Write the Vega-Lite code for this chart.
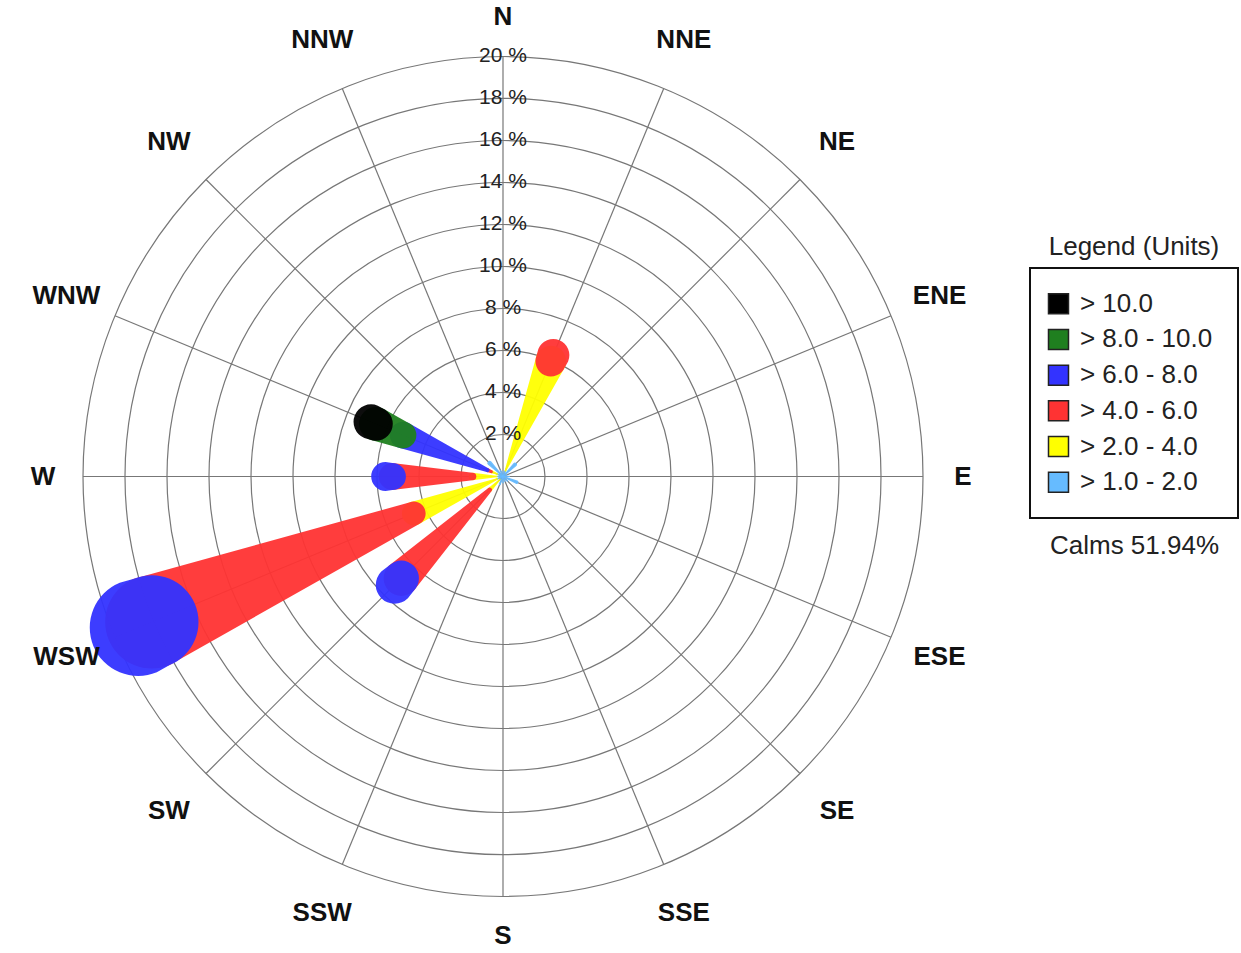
{
  "$schema": "https://vega.github.io/schema/vega-lite/v6.json",
  "padding": 0,
  "background": "white",
  "spacing": 24,
  "bounds": "flush",
  "config": {"view": {"stroke": null}, "font": "Liberation Sans"},
  "datasets": {
    "dirs": [
      {"dir": "N", "deg": 0, "kind": "cardinal"},
      {"dir": "NNE", "deg": 22.5, "kind": "other"},
      {"dir": "NE", "deg": 45, "kind": "other"},
      {"dir": "ENE", "deg": 67.5, "kind": "other"},
      {"dir": "E", "deg": 90, "kind": "cardinal"},
      {"dir": "ESE", "deg": 112.5, "kind": "other"},
      {"dir": "SE", "deg": 135, "kind": "other"},
      {"dir": "SSE", "deg": 157.5, "kind": "other"},
      {"dir": "S", "deg": 180, "kind": "cardinal"},
      {"dir": "SSW", "deg": 202.5, "kind": "other"},
      {"dir": "SW", "deg": 225, "kind": "other"},
      {"dir": "WSW", "deg": 247.5, "kind": "other"},
      {"dir": "W", "deg": 270, "kind": "cardinal"},
      {"dir": "WNW", "deg": 292.5, "kind": "other"},
      {"dir": "NW", "deg": 315, "kind": "other"},
      {"dir": "NNW", "deg": 337.5, "kind": "other"}
    ],
    "rings": [
      {"r": 2, "label": "2 %"}, {"r": 4, "label": "4 %"}, {"r": 6, "label": "6 %"},
      {"r": 8, "label": "8 %"}, {"r": 10, "label": "10 %"}, {"r": 12, "label": "12 %"},
      {"r": 14, "label": "14 %"}, {"r": 16, "label": "16 %"}, {"r": 18, "label": "18 %"},
      {"r": 20, "label": "20 %"}
    ],
    "classes": [
      {"cls": "> 10.0", "lo": 10},
      {"cls": "> 8.0 - 10.0", "lo": 8},
      {"cls": "> 6.0 - 8.0", "lo": 6},
      {"cls": "> 4.0 - 6.0", "lo": 4},
      {"cls": "> 2.0 - 4.0", "lo": 2},
      {"cls": "> 1.0 - 2.0", "lo": 1}
    ],
    "wind": [
      {"dir": "N", "deg": 0, "cls": "> 1.0 - 2.0", "lo": 1, "pct": 0.25},
      {"dir": "NNE", "deg": 22.5, "cls": "> 1.0 - 2.0", "lo": 1, "pct": 0.3},
      {"dir": "NNE", "deg": 22.5, "cls": "> 2.0 - 4.0", "lo": 2, "pct": 5.65},
      {"dir": "NNE", "deg": 22.5, "cls": "> 4.0 - 6.0", "lo": 4, "pct": 0.3},
      {"dir": "NE", "deg": 45, "cls": "> 1.0 - 2.0", "lo": 1, "pct": 0.8},
      {"dir": "ENE", "deg": 67.5, "cls": "> 1.0 - 2.0", "lo": 1, "pct": 0.2},
      {"dir": "E", "deg": 90, "cls": "> 1.0 - 2.0", "lo": 1, "pct": 0.3},
      {"dir": "ESE", "deg": 112.5, "cls": "> 1.0 - 2.0", "lo": 1, "pct": 0.7},
      {"dir": "SE", "deg": 135, "cls": "> 1.0 - 2.0", "lo": 1, "pct": 0.3},
      {"dir": "SSE", "deg": 157.5, "cls": "> 1.0 - 2.0", "lo": 1, "pct": 0.25},
      {"dir": "S", "deg": 180, "cls": "> 1.0 - 2.0", "lo": 1, "pct": 0.3},
      {"dir": "SSW", "deg": 202.5, "cls": "> 1.0 - 2.0", "lo": 1, "pct": 0.4},
      {"dir": "SW", "deg": 225, "cls": "> 1.0 - 2.0", "lo": 1, "pct": 0.2},
      {"dir": "SW", "deg": 225, "cls": "> 2.0 - 4.0", "lo": 2, "pct": 0.7},
      {"dir": "SW", "deg": 225, "cls": "> 4.0 - 6.0", "lo": 4, "pct": 5.95},
      {"dir": "SW", "deg": 225, "cls": "> 6.0 - 8.0", "lo": 6, "pct": 0.45},
      {"dir": "WSW", "deg": 247.5, "cls": "> 1.0 - 2.0", "lo": 1, "pct": 0.3},
      {"dir": "WSW", "deg": 247.5, "cls": "> 2.0 - 4.0", "lo": 2, "pct": 4.3},
      {"dir": "WSW", "deg": 247.5, "cls": "> 4.0 - 6.0", "lo": 4, "pct": 13.5},
      {"dir": "WSW", "deg": 247.5, "cls": "> 6.0 - 8.0", "lo": 6, "pct": 0.7},
      {"dir": "W", "deg": 270, "cls": "> 1.0 - 2.0", "lo": 1, "pct": 0.3},
      {"dir": "W", "deg": 270, "cls": "> 2.0 - 4.0", "lo": 2, "pct": 1.15},
      {"dir": "W", "deg": 270, "cls": "> 4.0 - 6.0", "lo": 4, "pct": 3.82},
      {"dir": "W", "deg": 270, "cls": "> 6.0 - 8.0", "lo": 6, "pct": 0.32},
      {"dir": "WNW", "deg": 292.5, "cls": "> 1.0 - 2.0", "lo": 1, "pct": 0.3},
      {"dir": "WNW", "deg": 292.5, "cls": "> 2.0 - 4.0", "lo": 2, "pct": 0.3},
      {"dir": "WNW", "deg": 292.5, "cls": "> 4.0 - 6.0", "lo": 4, "pct": 0.2},
      {"dir": "WNW", "deg": 292.5, "cls": "> 6.0 - 8.0", "lo": 6, "pct": 4.35},
      {"dir": "WNW", "deg": 292.5, "cls": "> 8.0 - 10.0", "lo": 8, "pct": 1.4},
      {"dir": "WNW", "deg": 292.5, "cls": "> 10.0", "lo": 10, "pct": 0.25},
      {"dir": "NW", "deg": 315, "cls": "> 1.0 - 2.0", "lo": 1, "pct": 0.9},
      {"dir": "NNW", "deg": 337.5, "cls": "> 1.0 - 2.0", "lo": 1, "pct": 0.3}
    ]
  },
  "hconcat": [
    {
      "width": 1006,
      "height": 953,
      "resolve": {"scale": {"size": "independent"}},
      "layer": [
        {
          "data": {"name": "rings"},
          "transform": [{"calculate": "0", "as": "o"}],
          "mark": {"type": "point", "shape": "circle", "filled": false, "stroke": "#777777", "strokeWidth": 1.2, "opacity": 1},
          "encoding": {
            "x": {"field": "o", "type": "quantitative", "scale": {"domain": [-23.952, 23.952], "nice": false, "zero": false}, "axis": null},
            "y": {"field": "o", "type": "quantitative", "scale": {"domain": [-22.69, 22.69], "nice": false, "zero": false}, "axis": null},
            "size": {"field": "r", "type": "quantitative", "scale": {"type": "pow", "exponent": 2, "domain": [0, 20], "range": [0, 705600], "zero": true}, "legend": null}
          }
        },
        {
          "data": {"name": "dirs"},
          "transform": [
            {"calculate": "0", "as": "o"},
            {"calculate": "20 * sin(datum.deg * PI / 180)", "as": "sx"},
            {"calculate": "20 * cos(datum.deg * PI / 180)", "as": "sy"}
          ],
          "mark": {"type": "rule", "stroke": "#777777", "strokeWidth": 1.2},
          "encoding": {
            "x": {"field": "o", "type": "quantitative"},
            "y": {"field": "o", "type": "quantitative"},
            "x2": {"field": "sx"},
            "y2": {"field": "sy"}
          }
        },
        {
          "data": {"name": "wind"},
          "transform": [
            {"stack": "pct", "groupby": ["dir"], "sort": [{"field": "lo", "order": "ascending"}], "as": ["r0", "r1"]},
            {"fold": ["r0", "r1"], "as": ["end", "rad"]},
            {"calculate": "datum.rad * sin(datum.deg * PI / 180)", "as": "wx"},
            {"calculate": "datum.rad * cos(datum.deg * PI / 180)", "as": "wy"}
          ],
          "mark": {"type": "trail", "opacity": 0.95},
          "encoding": {
            "x": {"field": "wx", "type": "quantitative"},
            "y": {"field": "wy", "type": "quantitative"},
            "detail": {"field": "dir", "type": "nominal"},
            "order": {"field": "rad", "type": "quantitative"},
            "size": {"field": "rad", "type": "quantitative", "scale": {"type": "linear", "domain": [0, 20], "range": [0, 103.1], "zero": true}, "legend": null},
            "color": {
              "field": "cls", "type": "nominal",
              "scale": {"domain": ["> 10.0", "> 8.0 - 10.0", "> 6.0 - 8.0", "> 4.0 - 6.0", "> 2.0 - 4.0", "> 1.0 - 2.0"],
                        "range": ["#000000", "#1f7f1f", "#3333ff", "#ff3333", "#ffff00", "#66bbff"]},
              "legend": null
            }
          }
        },
        {
          "data": {"name": "rings"},
          "transform": [{"calculate": "0", "as": "o"}],
          "mark": {"type": "text", "fontSize": 21, "color": "#222222", "align": "center", "baseline": "middle"},
          "encoding": {
            "x": {"field": "o", "type": "quantitative"},
            "y": {"field": "r", "type": "quantitative"},
            "text": {"field": "label", "type": "nominal"}
          }
        },
        {
          "data": {"name": "dirs"},
          "transform": [
            {"filter": "datum.kind == 'cardinal'"},
            {"calculate": "21.9 * sin(datum.deg * PI / 180)", "as": "lx"},
            {"calculate": "21.9 * cos(datum.deg * PI / 180)", "as": "ly"}
          ],
          "mark": {"type": "text", "fontSize": 26, "fontWeight": "bold", "color": "#111111", "align": "center", "baseline": "middle"},
          "encoding": {
            "x": {"field": "lx", "type": "quantitative"},
            "y": {"field": "ly", "type": "quantitative"},
            "text": {"field": "dir", "type": "nominal"}
          }
        },
        {
          "data": {"name": "dirs"},
          "transform": [
            {"filter": "datum.kind == 'other'"},
            {"calculate": "22.5 * sin(datum.deg * PI / 180)", "as": "lx"},
            {"calculate": "22.5 * cos(datum.deg * PI / 180)", "as": "ly"}
          ],
          "mark": {"type": "text", "fontSize": 26, "fontWeight": "bold", "color": "#111111", "align": "center", "baseline": "middle"},
          "encoding": {
            "x": {"field": "lx", "type": "quantitative"},
            "y": {"field": "ly", "type": "quantitative"},
            "text": {"field": "dir", "type": "nominal"}
          }
        }
      ]
    },
    {
      "spacing": 0,
      "bounds": "flush",
      "vconcat": [
        {
          "width": 208,
          "height": 268,
          "data": {"name": "classes"},
          "mark": {"type": "point", "opacity": 0}
        },
        {
          "width": 208,
          "height": 250,
          "view": {"stroke": "#111111", "strokeWidth": 2},
          "title": {"text": "Legend (Units)", "fontSize": 26, "fontWeight": "normal", "color": "#222222", "anchor": "middle", "offset": 8},
          "data": {"name": "classes"},
          "transform": [{"calculate": "0.137", "as": "sxp"}, {"calculate": "0.24", "as": "txp"}],
          "layer": [
            {
              "mark": {"type": "square", "size": 400, "stroke": "#222222", "strokeWidth": 1.5, "opacity": 1, "filled": true},
              "encoding": {
                "y": {"field": "cls", "type": "nominal", "sort": ["> 10.0", "> 8.0 - 10.0", "> 6.0 - 8.0", "> 4.0 - 6.0", "> 2.0 - 4.0", "> 1.0 - 2.0"], "scale": {"padding": 1}, "axis": null},
                "x": {"field": "sxp", "type": "quantitative", "scale": {"domain": [0, 1], "nice": false},
                      "axis": {"title": "Calms 51.94%", "labels": false, "ticks": false, "domain": false, "grid": false, "titleFontSize": 26, "titleFontWeight": "normal", "titleColor": "#222222", "titlePadding": 14}},
                "fill": {
                  "field": "cls", "type": "nominal",
                  "scale": {"domain": ["> 10.0", "> 8.0 - 10.0", "> 6.0 - 8.0", "> 4.0 - 6.0", "> 2.0 - 4.0", "> 1.0 - 2.0"],
                            "range": ["#000000", "#1f7f1f", "#3333ff", "#ff3333", "#ffff00", "#66bbff"]},
                  "legend": null
                }
              }
            },
            {
              "mark": {"type": "text", "align": "left", "baseline": "middle", "fontSize": 26, "color": "#222222"},
              "encoding": {
                "y": {"field": "cls", "type": "nominal", "sort": ["> 10.0", "> 8.0 - 10.0", "> 6.0 - 8.0", "> 4.0 - 6.0", "> 2.0 - 4.0", "> 1.0 - 2.0"]},
                "x": {"field": "txp", "type": "quantitative"},
                "text": {"field": "cls", "type": "nominal"}
              }
            }
          ]
        }
      ]
    }
  ]
}
